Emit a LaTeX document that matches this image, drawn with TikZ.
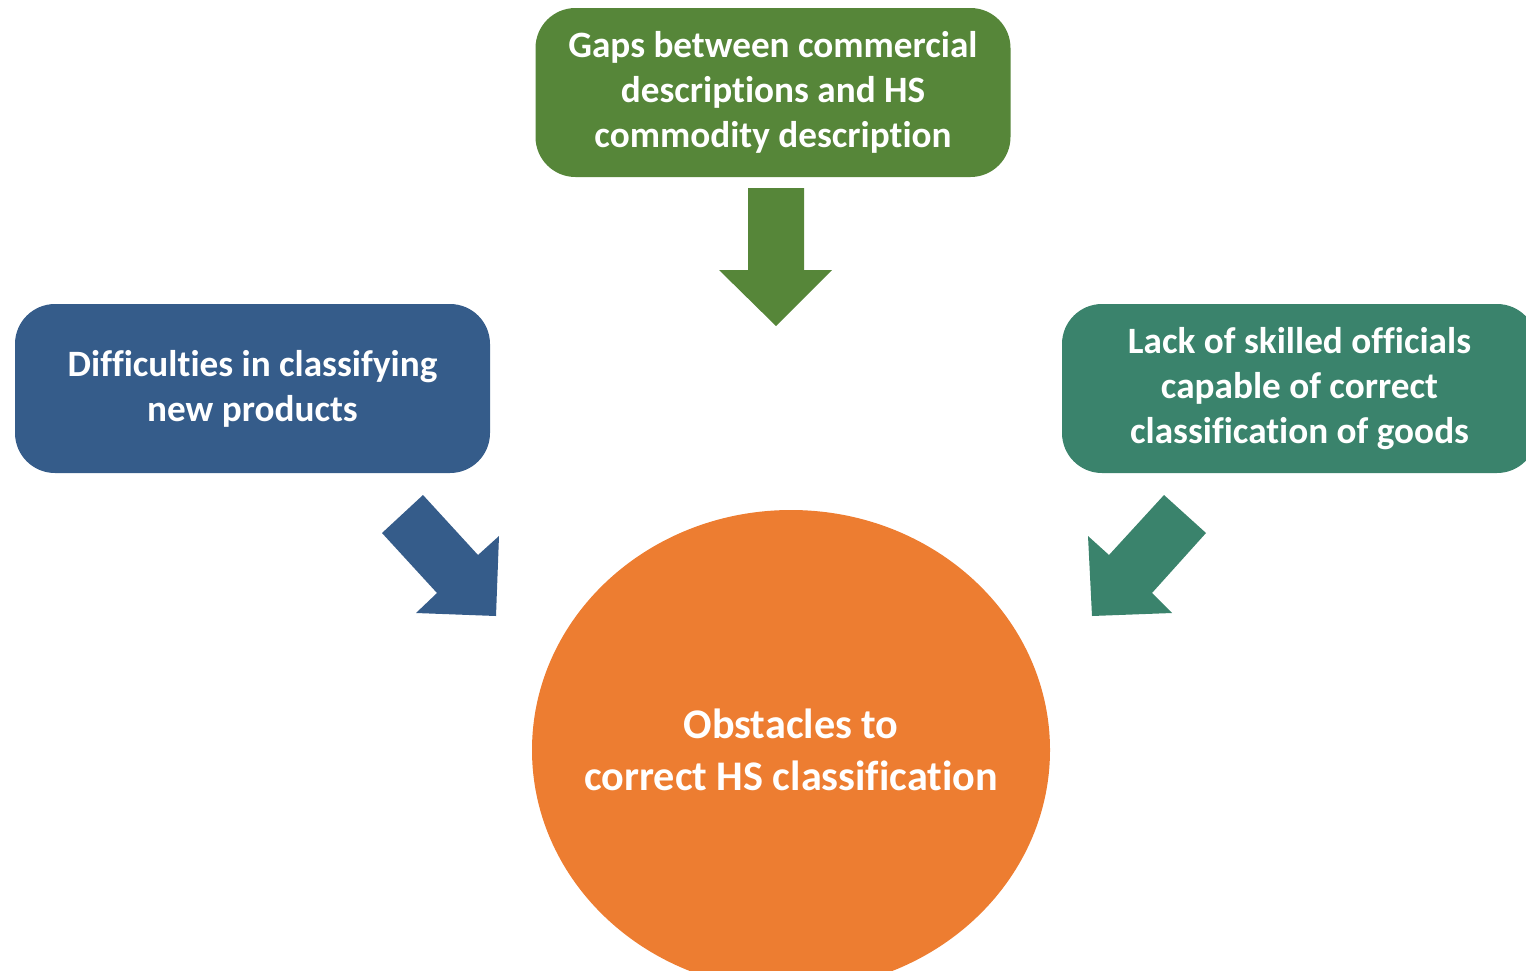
\documentclass[tikz,border=0pt]{standalone}
\usepackage{fontspec}
\setmainfont{Carlito}[Ligatures=NoCommon]
\usetikzlibrary{shapes.geometric,positioning}
\definecolor{gapgreen}{RGB}{86,134,57}
\definecolor{diffblue}{RGB}{53,92,138}
\definecolor{skillteal}{RGB}{58,131,108}
\definecolor{hsorange}{RGB}{237,125,49}

\begin{document}
\begin{tikzpicture}[
    x=0.5pt, y=-0.5pt,
    cause/.style={rectangle, rounded corners=20pt, align=center, minimum width=237.5pt, minimum height=84.5pt, text=white, font=\fontsize{18.6}{22.5}\selectfont\bfseries},
    core/.style={ellipse, fill=hsorange, inner sep=0pt, minimum width=259pt, minimum height=240pt},
    coretext/.style={align=center, text=white, font=\fontsize{21.1}{26}\selectfont\bfseries}
]
    \useasboundingbox (0,0) rectangle (1526,970);
    \clip (0,0) rectangle (1526,970);

    \node[cause, fill=gapgreen] (gaps) at (773,92.5) {Gaps between commercial\\descriptions and HS\\commodity description};
    \node[cause, fill=diffblue] (newprod) at (252.5,388.5) {Difficulties in classifying\\new products};
    \node[cause, fill=skillteal] (skills) at (1299.5,388.5) {Lack of skilled officials\\capable of correct\\classification of goods};
    \node[core] (obstacles) at (791,750) {};
    \node[coretext] (obstext) at (obstacles.center) {Obstacles to\\correct HS classification};

    % block arrows pointing into the circle
    \fill[gapgreen] (748,188) -- (804,188) -- (804,270) -- (832,270) -- (776,326) -- (719,270) -- (748,270) -- cycle;
    \fill[diffblue] (423,495) -- (478,555) -- (499,536) -- (496,616) -- (416,613) -- (437,593) -- (382,533) -- cycle;
    \fill[skillteal] (1164,495) -- (1206,533) -- (1152,593) -- (1172,613) -- (1092,616) -- (1088,536) -- (1109,555) -- cycle;
\end{tikzpicture}
\end{document}
